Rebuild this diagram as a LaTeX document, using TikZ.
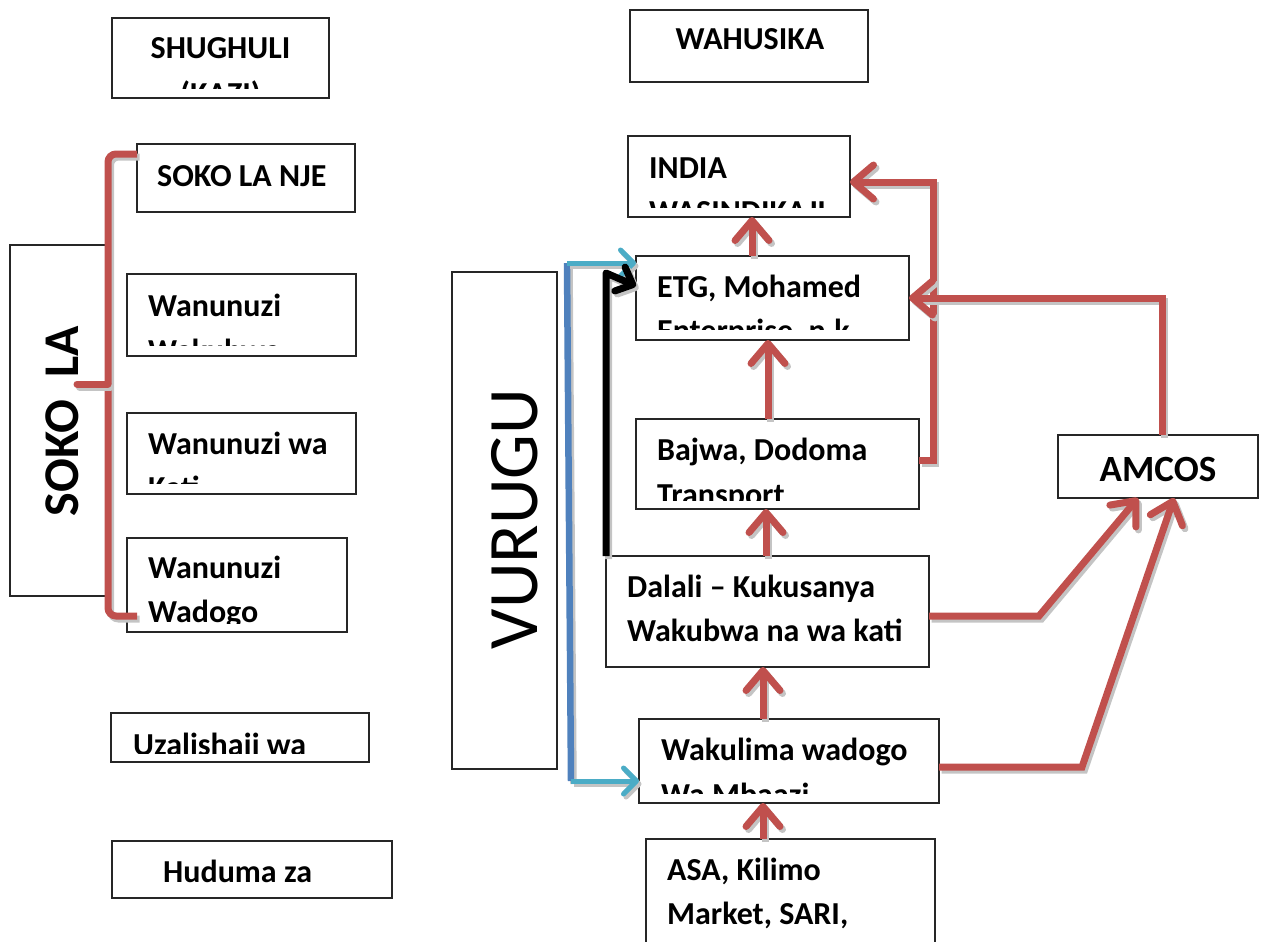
\documentclass[tikz,border=0pt]{standalone}
\usepackage{fontspec}
\setmainfont{Carlito}
\usetikzlibrary{arrows.meta}
\definecolor{cred}{HTML}{C0504D}
\definecolor{cblue}{HTML}{4F81BD}
\definecolor{ccyan}{HTML}{4BACC6}
\definecolor{cshadow}{HTML}{C4C4C4}
\newcommand{\mkbox}[5]{\node[box, minimum width={#4pt-#2pt}, minimum height={#5pt-#3pt}] (#1) at (#2,#3) {};}
\newcommand{\withclip}[5]{\begin{scope}\clip (#1,#2) rectangle (#3,#4); #5 \end{scope}}
\newcommand{\sdraw}[2]{\begin{scope}[transform canvas={xshift=2.5pt,yshift=-3pt}]\draw[#1,draw=cshadow] #2;\end{scope}\draw[#1] #2;}
\begin{document}
\begin{tikzpicture}[x=1pt,y=-1pt,
  box/.style={draw=black!85, line width=1.2pt, inner sep=0pt, outer sep=0pt, anchor=north west},
  txt/.style={font=\bfseries\fontsize{32}{38}\selectfont, inner sep=0pt, anchor=base west},
  ctxt/.style={txt, anchor=base},
  rline/.style={draw=cred, line width=7pt},
  rarr/.style={rline, -{Straight Barb[length=20pt,width=34pt,round]}},
  bline/.style={draw=cblue, line width=6.5pt},
  carr/.style={draw=ccyan, line width=5pt, -{Straight Barb[length=13pt,width=26pt,round]}},
  karr/.style={draw=black, line width=7pt, line join=round, -{Straight Barb[length=14pt,width=26pt,round]}}
]
\useasboundingbox (0,0) rectangle (1262,942);

% ---------- boxes ----------
\mkbox{shughuli}{112}{18}{329}{98}
\mkbox{wahusika}{630}{10}{868}{82}
\mkbox{sokonje}{137}{144}{355}{212}
\mkbox{sokola}{10}{245}{111}{596}
\mkbox{wakubwa}{127}{274}{356}{356}
\mkbox{kati}{127}{413}{356}{494}
\mkbox{wadogo}{127}{538}{347}{632}
\mkbox{uzalishaji}{111}{713}{369}{762}
\mkbox{huduma}{112}{841}{392}{898}
\mkbox{vurugu}{452}{272}{557}{769}
\mkbox{india}{628}{136}{850}{217}
\mkbox{etg}{636}{256}{909}{340}
\mkbox{bajwa}{636}{419}{919}{509}
\mkbox{dalali}{606}{556}{929}{667}
\mkbox{wakulima}{639}{719}{939}{803}
\mkbox{asa}{646}{839}{935}{990}
\mkbox{amcos}{1058}{435}{1258}{498}

% ---------- texts ----------
\withclip{112}{18}{329}{89}{%
  \node[ctxt] (tshughuli) at (220.5,59) {SHUGHULI};
  \node[ctxt] (tkazi) at (220.5,104) {(KAZI)};}
\node[ctxt] (twahusika) at (750,50) {WAHUSIKA};
\node[txt] (tsokonje) at (157,186) {SOKO LA NJE};
\withclip{127}{274}{356}{345}{%
  \node[txt] (twak1) at (148,316) {Wanunuzi};
  \node[txt] (twak2) at (148,361) {Wakubwa};}
\withclip{127}{413}{356}{483}{%
  \node[txt] (tkati1) at (148,454) {Wanunuzi wa};
  \node[txt] (tkati2) at (148,498) {Kati};}
\withclip{127}{538}{347}{623}{%
  \node[txt] (twad1) at (148,578) {Wanunuzi};
  \node[txt] (twad2) at (148,622) {Wadogo};}
\withclip{111}{713}{369}{753}{%
  \node[txt] (tuzal) at (133,755) {Uzalishaji wa};}
\node[txt] (thuduma) at (163,882) {Huduma za};
\node[rotate=90, anchor=base, inner sep=0pt, font=\bfseries\fontsize{50}{58}\selectfont] (tsokola) at (78,421) {SOKO\ \ LA};
\node[rotate=90, anchor=base, inner sep=0pt, font=\fontsize{71}{84}\selectfont] (tvurugu) at (537,519) {VURUGU};
\withclip{628}{136}{850}{207}{%
  \node[txt] (tindia1) at (649,178) {INDIA};
  \node[txt] (tindia2) at (649,222) {WASINDIKAJI};}
\withclip{636}{256}{909}{329}{%
  \node[txt] (tetg1) at (657,297) {ETG, Mohamed};
  \node[txt] (tetg2) at (657,341) {Enterprise, n.k};}
\withclip{636}{419}{919}{500}{%
  \node[txt] (tbaj1) at (657,460) {Bajwa, Dodoma};
  \node[txt] (tbaj2) at (657,505) {Transport};}
\node[txt] (tdal1) at (627,597) {Dalali – Kukusanya};
\node[txt] (tdal2) at (627,641) {Wakubwa na wa kati};
\withclip{639}{719}{939}{793}{%
  \node[txt] (twkl1) at (661,760) {Wakulima wadogo};
  \node[txt] (twkl2) at (661,805) {Wa Mbaazi};}
\node[txt] (tasa1) at (667,880) {ASA, Kilimo};
\node[txt] (tasa2) at (667,924) {Market, SARI,};
\node[ctxt, font=\bfseries\fontsize{37}{44}\selectfont] (tamcos) at (1158,481) {AMCOS};

% ---------- bracket ----------
\coordinate (brtop) at (108,154);
\coordinate (brbot) at (108,616);
\coordinate (brend) at (137,616);
\coordinate (brmid) at (108,384);
\coordinate (brtick) at (77,384);
\sdraw{rline, rounded corners=8pt}{(sokonje.west |- brtop) -- (brtop) -- (brbot) -- (brend)}
\sdraw{rline, line cap=round}{(brtick) -- (brmid)}

% ---------- red vertical arrows ----------
\sdraw{rarr}{(etg.north -| 752,0) -- (india.south -| 752,0)}
\sdraw{rarr}{(bajwa.north -| 768,0) -- (etg.south -| 768,0)}
\sdraw{rarr}{(dalali.north -| 766,0) -- (bajwa.south -| 766,0)}
\sdraw{rarr}{(wakulima.north -| 763,0) -- (dalali.south -| 763,0)}
\sdraw{rarr}{(asa.north -| 763,0) -- (wakulima.south -| 763,0)}

% ---------- red side routes ----------
\coordinate (r1a) at (933,460);
\coordinate (r1b) at (933,182);
\sdraw{rarr}{(bajwa.east |- r1a) -- (r1a) -- (r1b) -- (india.east |- r1b)}
\coordinate (r2a) at (1162,298);
\sdraw{rarr}{(amcos.north -| r2a) -- (r2a) -- (etg.east |- r2a)}
\coordinate (r3a) at (1039,616);
\sdraw{rarr}{(dalali.east |- r3a) -- (r3a) -- (amcos.south -| 1138,0)}
\coordinate (r4a) at (1082,767);
\sdraw{rarr}{(wakulima.east |- r4a) -- (r4a) -- (amcos.south -| 1174,0)}

% ---------- blue / cyan ----------
\coordinate (btop) at (567,263);
\coordinate (bbot) at (571,781);
\sdraw{bline}{(btop) -- (bbot)}
\sdraw{carr}{(btop) -- (etg.west |- btop)}
\sdraw{carr}{(bbot) -- (wakulima.west |- bbot)}

% ---------- black ----------
\coordinate (kturn) at (606,273);
\coordinate (ktip) at (636,286);
\sdraw{karr}{(dalali.north -| kturn) -- (kturn) -- (etg.west |- ktip)}
\end{tikzpicture}
\end{document}
